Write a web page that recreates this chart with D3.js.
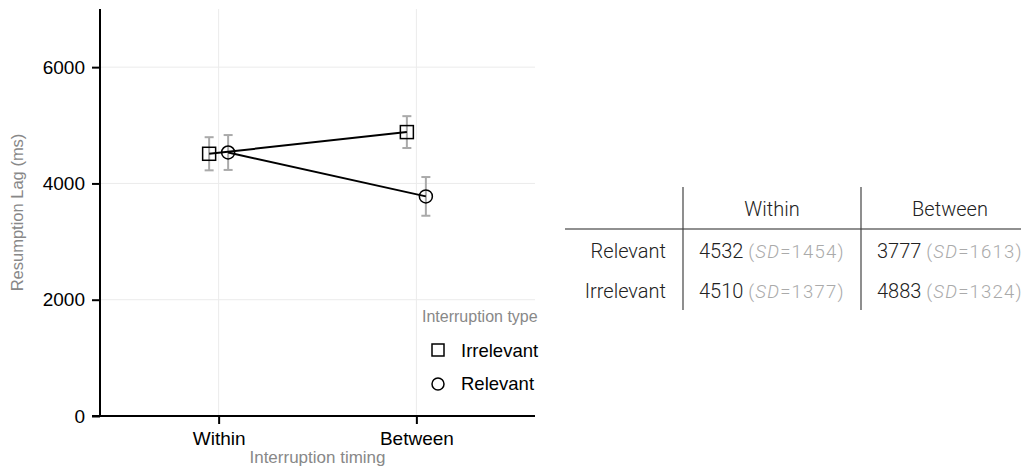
<!DOCTYPE html>
<html>
<head>
<meta charset="utf-8">
<script src="https://cdn.jsdelivr.net/npm/d3@7"></script>
<style>
  html, body { margin: 0; padding: 0; background: #fff; }
  svg { display: block; }
</style>
</head>
<body>
<svg id="chart" width="1033" height="469"></svg>
<script>
// data
const timings = ['Within', 'Between']
const groups = ['Irrelevant', 'Relevant']
const relevantMean = [4532, 3777]
const relevantSD = [1454, 1613]
const relevantErr = [300, 333]
const irrelevantMean = [4510, 4883]
const irrelevantSD = [1377, 1324]
const irrelevantErr = [285, 274]
const yTicks = [0, 2000, 4000, 6000]

const svg = d3.select('#chart')
const plotFont = '"Liberation Sans", Arial, sans-serif'
const tableFont = 'Roboto, "Open Sans", sans-serif'

const plotLeft = 100, plotRight = 535, plotTop = 9, plotBottom = 416

const x = d3.scalePoint().domain(timings).range([plotLeft, plotRight]).padding(0.6)
const y = d3.scaleLinear().domain([0, 7000]).range([plotBottom, plotTop])
const dodge = { Irrelevant: -9.5, Relevant: 9.5 }

// grid
const grid = svg.append('g')
grid.selectAll('line.h').data(yTicks.slice(1)).join('line')
  .attr('x1', plotLeft).attr('x2', plotRight)
  .attr('y1', d => y(d)).attr('y2', d => y(d))
  .attr('stroke', '#ebebeb').attr('stroke-width', 1)
grid.selectAll('line.v').data(timings).join('line')
  .attr('x1', d => x(d)).attr('x2', d => x(d))
  .attr('y1', plotTop).attr('y2', plotBottom)
  .attr('stroke', '#ebebeb').attr('stroke-width', 1)

// axes
const yAxis = svg.append('g')
  .attr('transform', `translate(${plotLeft},0)`)
  .call(d3.axisLeft(y).tickValues(yTicks).tickFormat(d3.format('d')).tickSize(8).tickPadding(7))
yAxis.select('.domain').attr('d', `M0,${plotTop}V${plotBottom}`).attr('stroke', '#000').attr('stroke-width', 2)
yAxis.selectAll('.tick line').attr('stroke', '#000').attr('stroke-width', 2)
yAxis.selectAll('.tick text').attr('font-family', plotFont).attr('font-size', 19).attr('fill', '#000')

const xAxis = svg.append('g')
  .attr('transform', `translate(0,${plotBottom})`)
  .call(d3.axisBottom(x).tickSize(8).tickPadding(8))
xAxis.select('.domain').attr('d', `M${plotLeft - 8},0H${plotRight}`).attr('stroke', '#000').attr('stroke-width', 2)
xAxis.selectAll('.tick line').attr('stroke', '#000').attr('stroke-width', 2)
xAxis.selectAll('.tick text').attr('font-family', plotFont).attr('font-size', 19).attr('fill', '#000')

svg.append('text')
  .attr('transform', `translate(23,${(plotTop + plotBottom) / 2}) rotate(-90)`)
  .attr('text-anchor', 'middle')
  .attr('font-family', plotFont).attr('font-size', 16.5).attr('fill', '#888')
  .text('Resumption Lag (ms)')

svg.append('text')
  .attr('x', (plotLeft + plotRight) / 2).attr('y', 463)
  .attr('text-anchor', 'middle')
  .attr('font-family', plotFont).attr('font-size', 17).attr('fill', '#888')
  .text('Interruption timing')

// series
const series = [
  { name: 'Irrelevant', mean: irrelevantMean, err: irrelevantErr, shape: 'square' },
  { name: 'Relevant', mean: relevantMean, err: relevantErr, shape: 'circle' }
]
series.forEach(s => {
  s.points = timings.map((t, i) => ({ t, v: s.mean[i], e: s.err[i], px: x(t) + dodge[s.name] }))
})

const line = d3.line().x(d => d.px).y(d => y(d.v))

const gSeries = svg.append('g')
// error bars
series.forEach(s => {
  const eb = gSeries.append('g').attr('stroke', '#aaa').attr('stroke-width', 2)
  s.points.forEach(p => {
    eb.append('line').attr('x1', p.px).attr('x2', p.px).attr('y1', y(p.v - p.e)).attr('y2', y(p.v + p.e))
    eb.append('line').attr('x1', p.px - 4.5).attr('x2', p.px + 4.5).attr('y1', y(p.v - p.e)).attr('y2', y(p.v - p.e))
    eb.append('line').attr('x1', p.px - 4.5).attr('x2', p.px + 4.5).attr('y1', y(p.v + p.e)).attr('y2', y(p.v + p.e))
  })
})
series.forEach(s => {
  gSeries.append('path').datum(s.points).attr('d', line)
    .attr('fill', 'none').attr('stroke', '#000').attr('stroke-width', 2)
})
series.forEach(s => {
  const g = gSeries.append('g')
  s.points.forEach(p => {
    if (s.shape === 'square') {
      g.append('rect').attr('x', p.px - 6.5).attr('y', y(p.v) - 6.5).attr('width', 13).attr('height', 13)
        .attr('fill', 'none').attr('stroke', '#000').attr('stroke-width', 1.5)
    } else {
      g.append('circle').attr('cx', p.px).attr('cy', y(p.v)).attr('r', 6.5)
        .attr('fill', 'none').attr('stroke', '#000').attr('stroke-width', 1.5)
    }
  })
})

// legend
const legend = svg.append('g')
legend.append('text').attr('x', 422).attr('y', 322)
  .attr('font-family', plotFont).attr('font-size', 16).attr('fill', '#888')
  .text('Interruption type')
series.forEach((s, i) => {
  const cy = 350 + i * 33
  if (s.shape === 'square') {
    legend.append('rect').attr('x', 432).attr('y', cy - 6).attr('width', 12).attr('height', 12)
      .attr('fill', 'none').attr('stroke', '#000').attr('stroke-width', 1.5)
  } else {
    legend.append('circle').attr('cx', 438).attr('cy', cy + 1).attr('r', 6)
      .attr('fill', 'none').attr('stroke', '#000').attr('stroke-width', 1.5)
  }
  legend.append('text').attr('x', 461).attr('y', cy + 6.5)
    .attr('font-family', plotFont).attr('font-size', 18.5).attr('fill', '#000')
    .text(s.name)
})

// table
const table = svg.append('g')
const colX = [772, 950]
const cellX = [699, 877]
const rowLabels = ['Relevant', 'Irrelevant']
const rowMeans = [relevantMean, irrelevantMean]
const rowSDs = [relevantSD, irrelevantSD]
const rowY = [258, 298]

table.append('line').attr('x1', 565).attr('x2', 1021).attr('y1', 229).attr('y2', 229)
  .attr('stroke', '#222').attr('stroke-width', 1.2)
;[683, 861].forEach(vx => {
  table.append('line').attr('x1', vx).attr('x2', vx).attr('y1', 187).attr('y2', 310)
    .attr('stroke', '#444').attr('stroke-width', 1.2)
})
timings.forEach((t, j) => {
  table.append('text').attr('x', colX[j]).attr('y', 216).attr('text-anchor', 'middle')
    .attr('font-family', tableFont).attr('font-weight', 300).attr('font-size', 20).attr('fill', '#222')
    .text(t)
})
rowLabels.forEach((r, i) => {
  table.append('text').attr('x', 666).attr('y', rowY[i]).attr('text-anchor', 'end')
    .attr('font-family', tableFont).attr('font-weight', 300).attr('font-size', 20).attr('fill', '#222')
    .text(r)
  timings.forEach((t, j) => {
    const txt = table.append('text').attr('x', cellX[j]).attr('y', rowY[i])
      .attr('font-family', tableFont).attr('font-weight', 300).attr('font-size', 20).attr('fill', '#222')
    txt.append('tspan').text(rowMeans[i][j] + ' ')
    const sd = txt.append('tspan').attr('fill', '#aaa').attr('font-size', 18.5).attr('letter-spacing', 1.2)
    sd.append('tspan').text('(')
    sd.append('tspan').attr('font-style', 'italic').text('SD')
    sd.append('tspan').text('=' + rowSDs[i][j] + ')')
  })
})
</script>
</body>
</html>
